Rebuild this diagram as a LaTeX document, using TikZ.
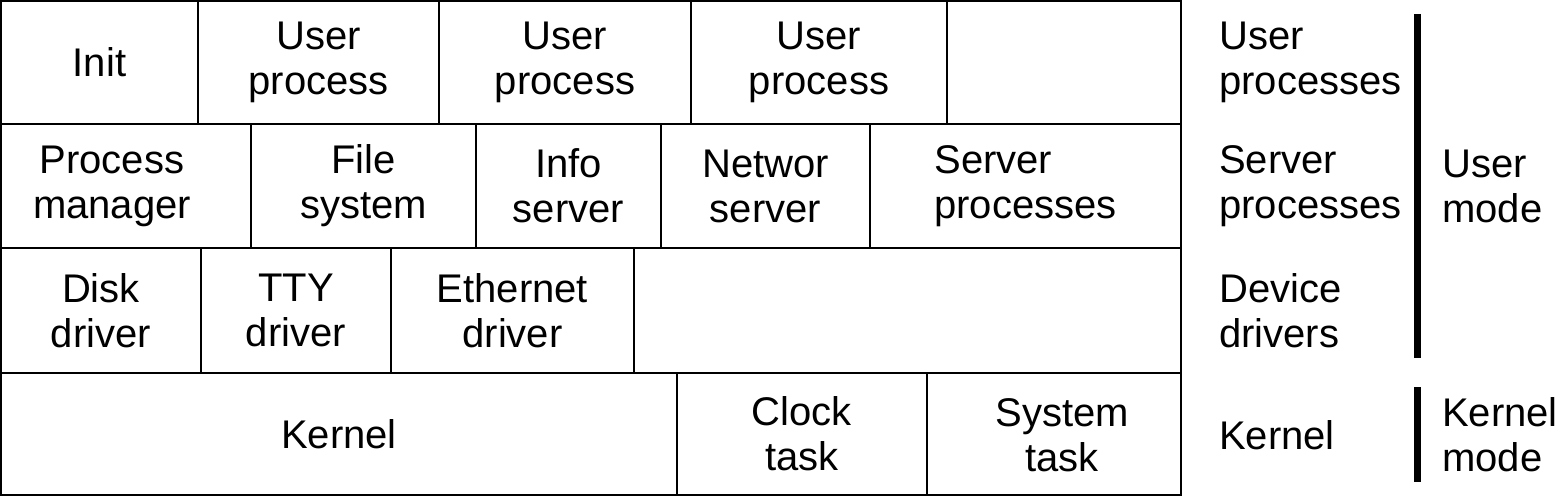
\documentclass[tikz,border=0pt]{standalone}
\usepackage{fontspec}
\setmainfont{Liberation Sans}
\begin{document}
\begin{tikzpicture}[x=1pt,y=-1pt,
  cell/.style={draw=black, line width=1.4pt, rectangle, inner sep=0pt, align=center,
     font=\fontsize{40}{45}\selectfont},
  txt/.style={inner sep=0pt, align=center, font=\fontsize{40}{45}\selectfont},
  lbl/.style={anchor=west, inner sep=0pt, align=left, font=\fontsize{40}{45}\selectfont},
  bar/.style={line width=7pt}]
\useasboundingbox (0,0) rectangle (1556,497);
\newcommand\mycell[6]{%
  \node[cell, minimum width={#3-#2}, minimum height={#5-#4}] (#1) at ({(#2+#3)/2},{(#4+#5)/2}) {#6};}
% row 1
\mycell{init}{1}{198}{1}{124}{Init}
\mycell{upa}{198}{439}{1}{124}{User\\process}
\mycell{upb}{439}{691}{1}{124}{User\\process}
\mycell{upc}{691}{947}{1}{124}{User\\process}
\mycell{upd}{947}{1181}{1}{124}{}
% row 2
\mycell{pm}{1}{251}{124}{248}{}
\node[txt] (pmt) at (112,186) {Process\\manager};
\mycell{fs}{251}{476}{124}{248}{File\\system}
\mycell{is}{476}{661}{124}{248}{Info\\server}
\mycell{ns}{661}{870}{124}{248}{Networ\\server}
\node[cell, align=left, minimum width=311pt, minimum height=124pt] (sp) at (1025.5,186) {Server\\processes};
% row 3
\mycell{dd}{1}{201}{248}{373}{Disk\\driver}
\mycell{td}{201}{391}{248}{373}{TTY\\driver}
\mycell{ed}{391}{634}{248}{373}{Ethernet\\driver}
\mycell{ee}{634}{1181}{248}{373}{}
% row 4
\mycell{kn}{1}{677}{373}{495}{Kernel}
\mycell{ct}{677}{927}{373}{495}{Clock\\task}
\mycell{st}{927}{1181}{373}{495}{}
\node[txt] (stt) at (1062,435) {System\\task};
% right labels
\node[lbl] (lup) at (1219,62) {User\\processes};
\node[lbl] (lsp) at (1219,186) {Server\\processes};
\node[lbl] (ldd) at (1219,311) {Device\\drivers};
\node[lbl] (lkn) at (1219,435) {Kernel};
\node[lbl] (lum) at (1442,186) {User\\mode};
\node[lbl] (lkm) at (1442,435) {Kernel\\mode};
\coordinate (ua) at (1417,14);
\coordinate (ub) at (1417,358);
\coordinate (ka) at (1417,387);
\coordinate (kb) at (1417,482);
\draw[bar] (ua) -- (ub);
\draw[bar] (ka) -- (kb);
\end{tikzpicture}
\end{document}
